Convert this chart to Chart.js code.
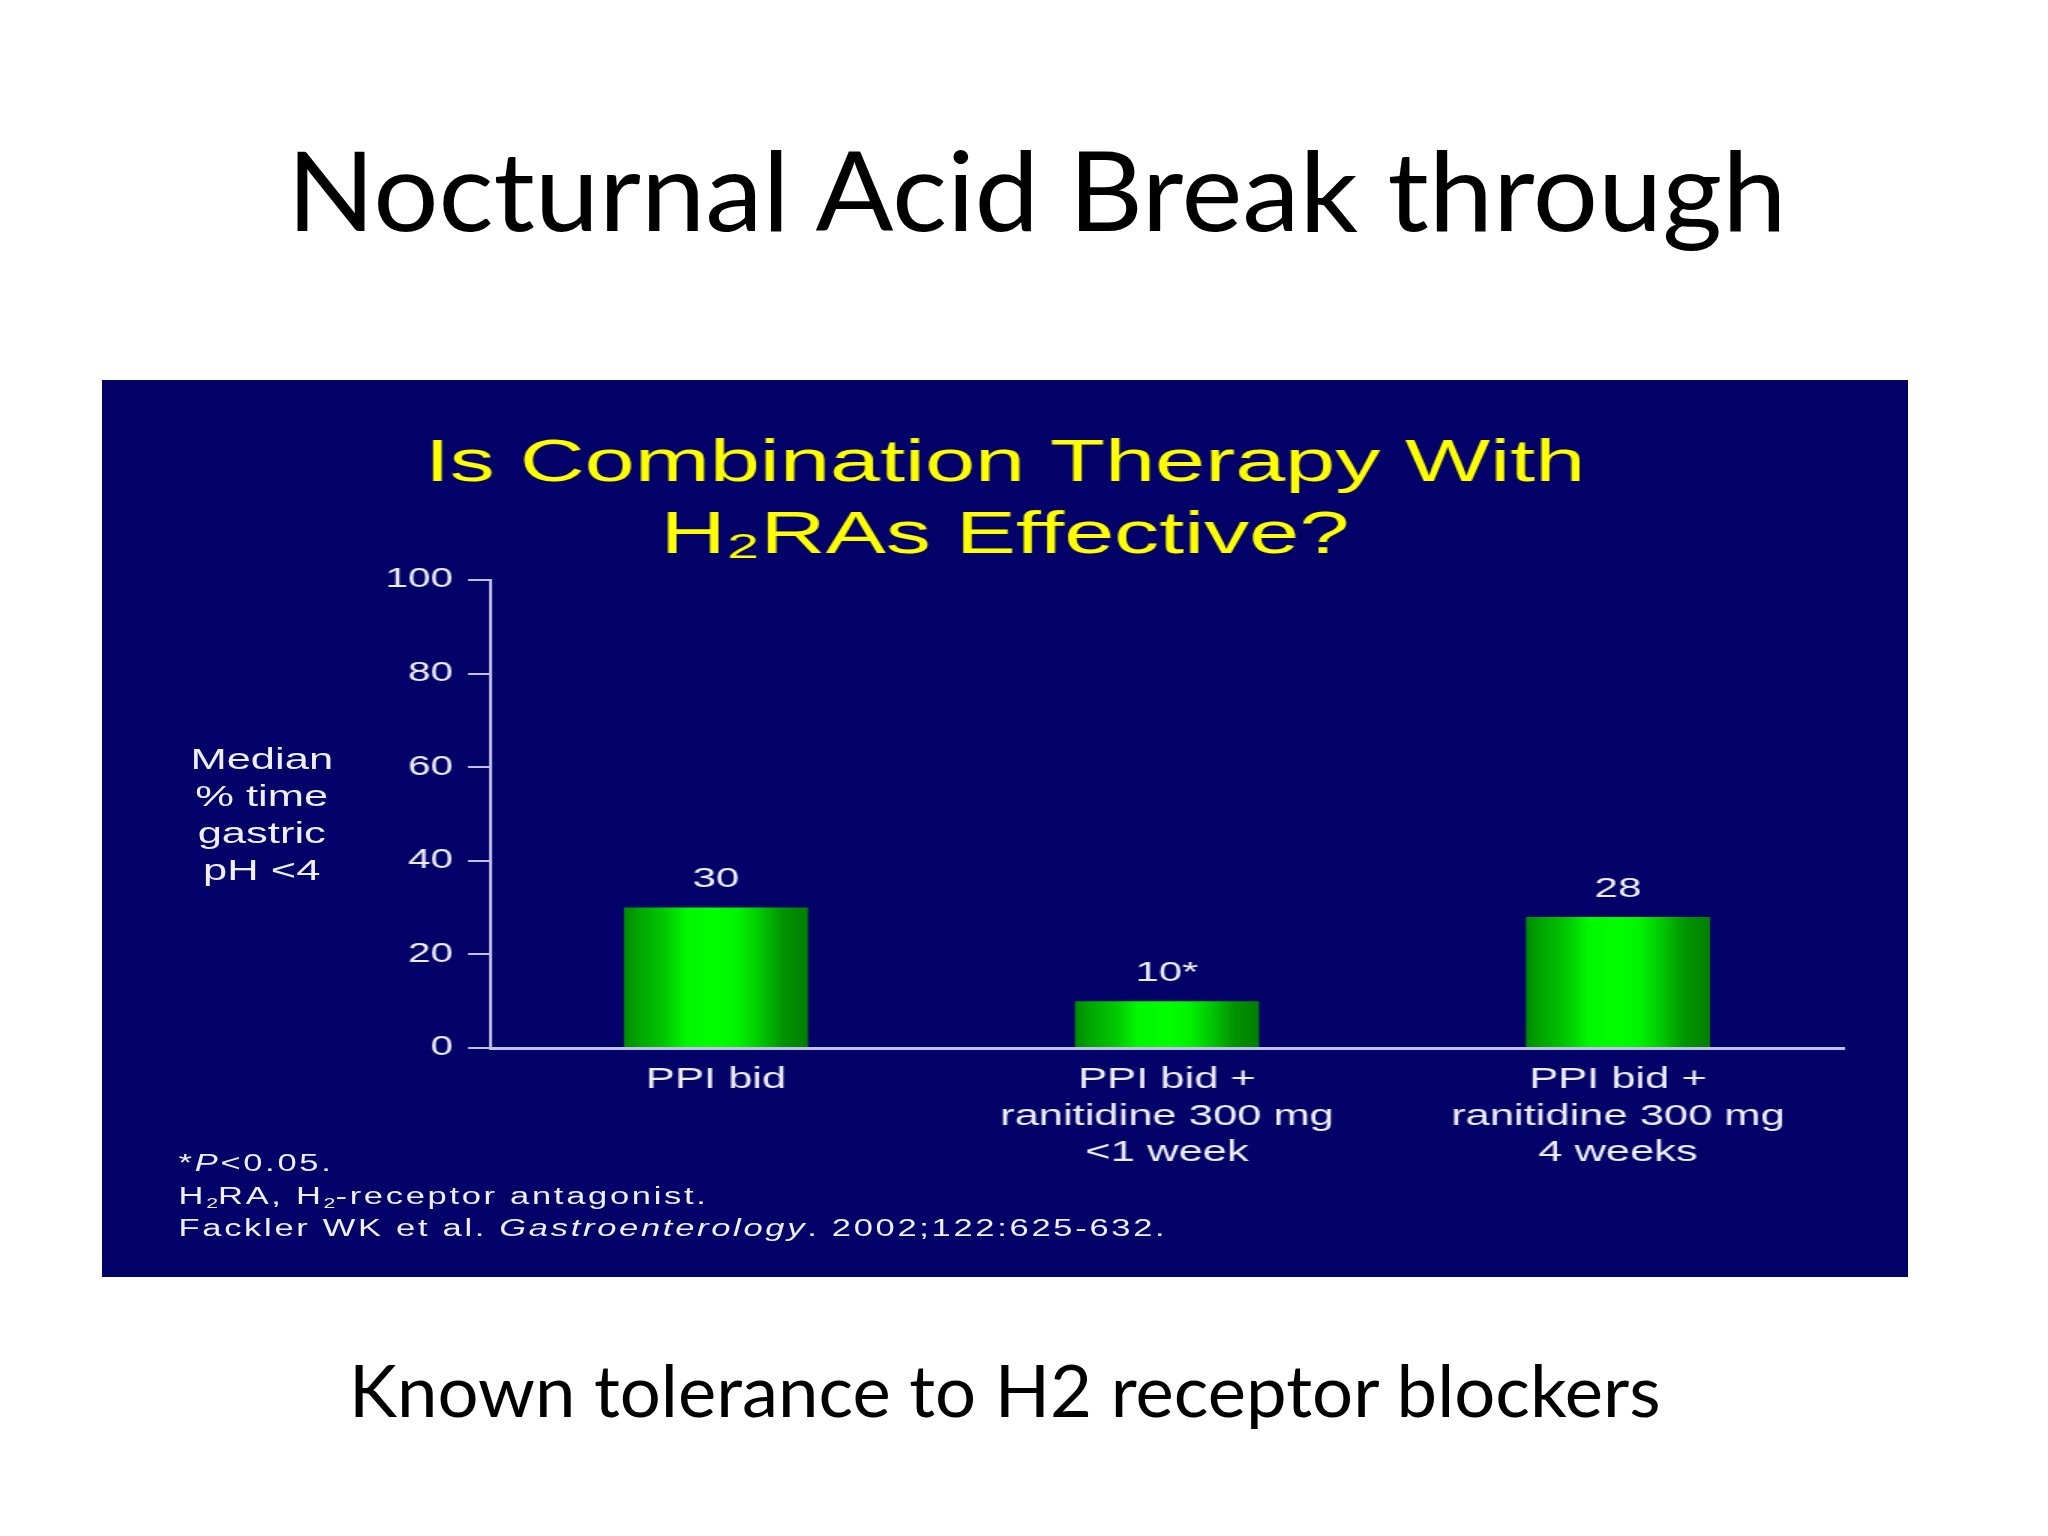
<!DOCTYPE html>
<html>
<head>
<meta charset="utf-8">
<script src="https://cdn.jsdelivr.net/npm/chart.js@4.4.1/dist/chart.umd.min.js"></script>
<style>
  html, body { margin: 0; padding: 0; background: #ffffff; }
  #slide { position: relative; width: 2048px; height: 1536px; overflow: hidden; background: #ffffff; }
  .slideText { position: absolute; white-space: nowrap; color: #000; font-family: Lato, "Open Sans", sans-serif; line-height: 1; transform-origin: 50% 50%; }
  #slideTitle { font-size: 110px; top: 133px; }
  #slideSub { font-size: 72.6px; top: 1353px; }
  #box { position: absolute; left: 102px; top: 380px; width: 1806px; height: 897px; background: #020268; overflow: hidden; }
  #inner { position: absolute; left: 0; top: 0; width: 1204px; height: 897px; transform: scaleX(1.5); transform-origin: 0 0; }
  #c { position: absolute; left: 0; top: 0; }
  #ylab { position: absolute; left: 0; width: 213px; top: 361px; text-align: center;
          font-family: "Liberation Sans", Arial, sans-serif; font-size: 29px; line-height: 37px; color: #eeeefc; }
  #foot { position: absolute; left: 51px; top: 767px; font-family: "Liberation Sans", Arial, sans-serif;
          font-size: 23px; line-height: 32.7px; letter-spacing: 1.8px; color: #eeeefc; white-space: nowrap; }
  #foot sub { font-size: 62%; vertical-align: -0.3em; line-height: 0; letter-spacing: 0; }
</style>
</head>
<body>
<div id="slide">
  <div id="slideTitle" class="slideText">Nocturnal Acid Break through</div>
  <div id="box">
    <div id="inner">
      <canvas id="c" width="1204" height="897"></canvas>
      <div id="ylab">Median<br>% time<br>gastric<br>pH &lt;4</div>
      <div id="foot">
        <div>*<i>P</i>&lt;0.05.</div>
        <div>H<sub>2</sub>RA, H<sub>2</sub>-receptor antagonist.</div>
        <div>Fackler WK et al. <i>Gastroenterology</i>. 2002;122:625-632.</div>
      </div>
    </div>
  </div>
  <div id="slideSub" class="slideText">Known tolerance to H2 receptor blockers</div>
</div>
<script>
// ---- data ----
const categories = [
  ["PPI bid"],
  ["PPI bid +", "ranitidine 300 mg", "<1 week"],
  ["PPI bid +", "ranitidine 300 mg", "4 weeks"]
];
const values = [30, 10, 28];
const significance = ["", "*", ""];
const yTickValues = [0, 20, 40, 60, 80, 100];
const chartTitle = ["Is Combination Therapy With", "H\u2082RAs Effective?"];

// ---- slide text fitting (center + width) ----
function fitText(id, centerX, targetWidth) {
  const el = document.getElementById(id);
  const w = el.offsetWidth;
  el.style.left = (centerX - w / 2) + 'px';
  el.style.transform = 'scaleX(' + (targetWidth / w) + ')';
}
fitText('slideTitle', 1037, 1500);
fitText('slideSub', 1005, 1312);

// ---- chart ----
const FONT = '"Liberation Sans", Arial, sans-serif';
const BAR_PCT = 0.408;
const AXIS_COLOR = '#c0c0ea';
const TEXT_COLOR = '#eeeefc';

function barGradient(ctx) {
  const chart = ctx.chart;
  if (!chart.chartArea || !chart.scales.x) return '#00cc00';
  const xs = chart.scales.x;
  const cx = xs.getPixelForValue(ctx.dataIndex);
  const w = (xs.width / categories.length) * BAR_PCT;
  const g = chart.ctx.createLinearGradient(cx - w / 2, 0, cx + w / 2, 0);
  g.addColorStop(0.00, '#008a00');
  g.addColorStop(0.08, '#00a600');
  g.addColorStop(0.22, '#00c800');
  g.addColorStop(0.34, '#00f800');
  g.addColorStop(0.50, '#00ff00');
  g.addColorStop(0.62, '#00f400');
  g.addColorStop(0.74, '#00c800');
  g.addColorStop(0.86, '#009600');
  g.addColorStop(1.00, '#007e00');
  return g;
}

const valueLabels = {
  id: 'valueLabels',
  afterDatasetsDraw(chart) {
    const ctx = chart.ctx;
    const meta = chart.getDatasetMeta(0);
    ctx.save();
    ctx.fillStyle = TEXT_COLOR;
    ctx.font = '28px ' + FONT;
    ctx.textAlign = 'center';
    ctx.textBaseline = 'middle';
    meta.data.forEach((el, i) => {
      ctx.fillText(String(values[i]) + significance[i], el.x, el.y - 28);
    });
    ctx.restore();
  }
};

new Chart(document.getElementById('c'), {
  type: 'bar',
  data: {
    labels: categories,
    datasets: [{
      data: values,
      backgroundColor: barGradient,
      borderWidth: 0,
      barPercentage: BAR_PCT,
      categoryPercentage: 1.0
    }]
  },
  plugins: [valueLabels],
  options: {
    responsive: false,
    animation: false,
    devicePixelRatio: 1,
    layout: { padding: 0 },
    plugins: {
      legend: { display: false },
      tooltip: { enabled: false },
      title: {
        display: true,
        text: chartTitle,
        color: '#ffff00',
        font: { family: FONT, size: 60, lineHeight: 1.2, weight: 'normal' },
        padding: { top: 48, bottom: 8 }
      }
    },
    scales: {
      x: {
        grid: { display: false, drawTicks: false },
        border: { display: true, color: AXIS_COLOR, width: 3 },
        ticks: { color: TEXT_COLOR, font: { family: FONT, size: 29, lineHeight: 1.26 }, padding: 14, maxRotation: 0, autoSkip: false },
        afterFit(s) { s.height = 229; }
      },
      y: {
        min: 0, max: 100,
        afterBuildTicks(s) { s.ticks = yTickValues.map(v => ({ value: v })); },
        grid: { drawOnChartArea: false, drawTicks: true, tickLength: 15, color: AXIS_COLOR, lineWidth: 2 },
        border: { display: true, color: AXIS_COLOR, width: 2 },
        ticks: { color: TEXT_COLOR, font: { family: FONT, size: 27 }, padding: 10 },
        afterFit(s) { s.width = 259; }
      },
      spacer: {
        position: 'right',
        display: true,
        grid: { display: false, drawTicks: false },
        border: { display: false },
        ticks: { display: false },
        afterFit(s) { s.width = 43; }
      }
    }
  }
});
</script>
</body>
</html>
